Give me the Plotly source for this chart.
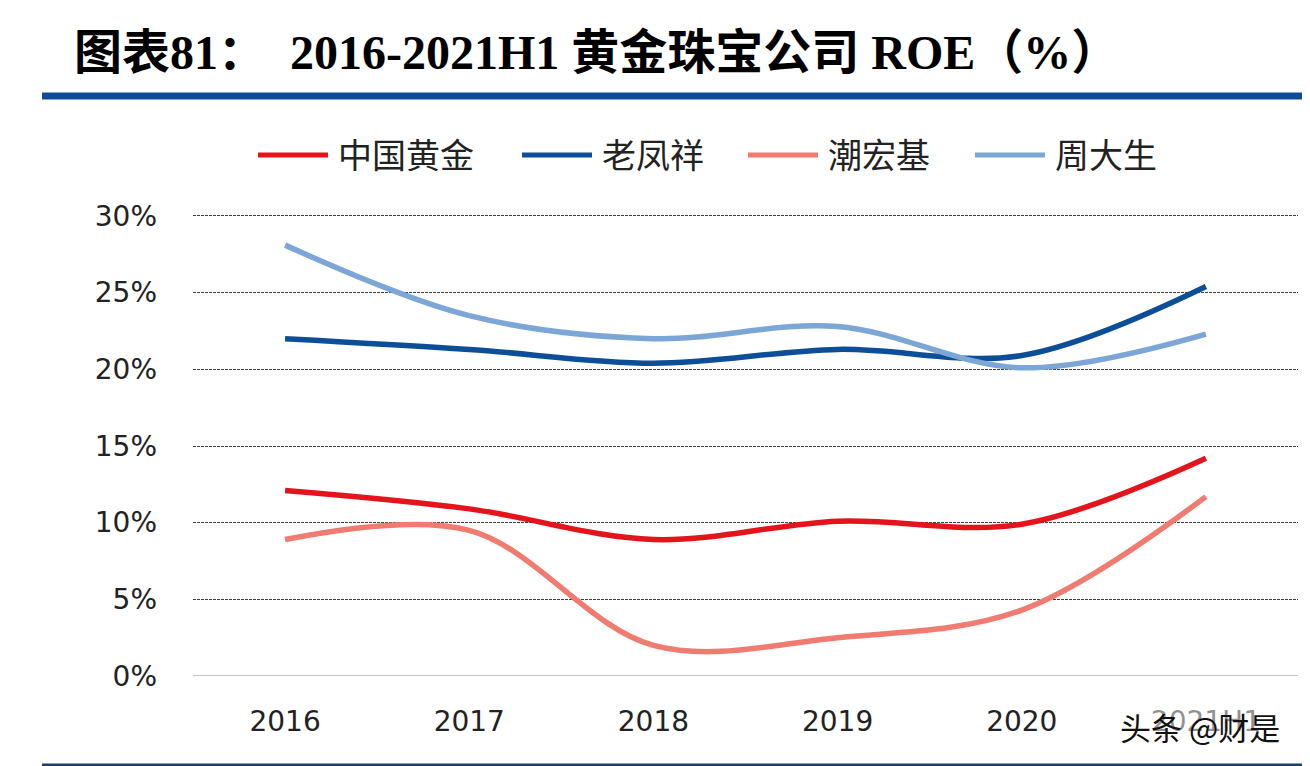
# ---------------- importing modules ----------------
import plotly.graph_objects as go

# ---------------- data ----------------
years = ['2016', '2017', '2018', '2019', '2020', '2021H1']
zhongguo_huangjin = [12.1, 10.9, 8.9, 10.1, 9.9, 14.2]   # 中国黄金
laofengxiang = [22.0, 21.3, 20.4, 21.3, 20.9, 25.4]      # 老凤祥
chaohongji = [8.9, 9.5, 2.0, 2.5, 4.3, 11.7]             # 潮宏基
zhoudasheng = [28.1, 23.5, 22.0, 22.8, 20.1, 22.3]       # 周大生
y_ticks = [0, 5, 10, 15, 20, 25, 30]
y_tick_text = ['0%', '5%', '10%', '15%', '20%', '25%', '30%']

# ---------------- page geometry (page has an 8px body margin) ----------------
OFF = 8
W, H = 1310 - OFF, 766 - OFF
# plot area in page pixels: x 193..1298, y 214..676
L, R, T, B = 193 - OFF, 1310 - 1298, 214 - OFF, 766 - 676
pw, ph = W - L - R, H - T - B


def px(x):
    return (x - OFF - L) / pw


def py(y):
    return (H - B - (y - OFF)) / ph


series = [
    ('中国黄金', zhongguo_huangjin, '#e3141c'),
    ('老凤祥', laofengxiang, '#0d4e98'),
    ('潮宏基', chaohongji, '#f07b70'),
    ('周大生', zhoudasheng, '#7ca6d5'),
]

fig = go.Figure()
for name, vals, col in series:
    fig.add_trace(go.Scatter(x=years, y=vals, name=name, mode='lines', showlegend=False,
                             line=dict(color=col, width=5.5, shape='spline', smoothing=1.0)))

cjk = 'Noto Sans CJK SC'
tickfont = dict(family='DejaVu Sans', size=28, color='#222222')
fig.update_layout(
    width=W, height=H,
    margin=dict(l=L, r=R, t=T, b=B),
    paper_bgcolor='white', plot_bgcolor='white',
    title=dict(text='<b>图表81：  2016-2021H1 黄金珠宝公司 ROE（%）</b>',
               x=(74 - OFF) / W, xanchor='left', y=1 - (52 - OFF) / H, yanchor='middle',
               font=dict(family='Liberation Serif, ' + cjk, size=48, color='#000000')),
    xaxis=dict(type='category', range=[-0.5, 5.5], showgrid=False, zeroline=False,
               showline=False, ticks='', ticklabelstandoff=26, tickfont=tickfont),
    yaxis=dict(range=[0, 30.13], tickvals=y_ticks, ticktext=y_tick_text,
               showgrid=True, gridcolor='#3a3a3a', gridwidth=1, griddash='3px,1px',
               zeroline=False, showline=False, ticks='', ticklabelstandoff=35,
               tickfont=tickfont),
)

# solid baseline at 0%
fig.add_shape(type='line', xref='paper', yref='y', x0=0, x1=1, y0=0, y1=0,
              line=dict(color='#b0b0b0', width=1.5))
# header and footer rules
fig.add_shape(type='line', xref='paper', yref='paper', x0=px(42), x1=px(1315),
              y0=py(96), y1=py(96), line=dict(color='#0f4c96', width=7))
fig.add_shape(type='line', xref='paper', yref='paper', x0=px(42), x1=px(1315),
              y0=py(765), y1=py(765), line=dict(color='#1a3e6e', width=3))

# legend, drawn by hand so the swatches are as long as in the original
legend_x = [258, 522, 748, 975]
for (name, vals, col), lx in zip(series, legend_x):
    fig.add_shape(type='line', xref='paper', yref='paper', x0=px(lx), x1=px(lx + 70),
                  y0=py(155), y1=py(155), line=dict(color=col, width=5))
    fig.add_annotation(text=name, xref='paper', yref='paper', x=px(lx + 78), y=py(154),
                       xanchor='left', yanchor='middle', showarrow=False,
                       font=dict(family=cjk, size=34, color='#222222'))

# watermark
fig.add_annotation(text='头条 @财是', xref='paper', yref='paper', x=px(1200), y=py(726),
                   xanchor='center', yanchor='middle', showarrow=False,
                   font=dict(family=cjk, size=31, color='#111111'),
                   bgcolor='rgba(255,255,255,0.5)')

fig.write_html('out.html')
